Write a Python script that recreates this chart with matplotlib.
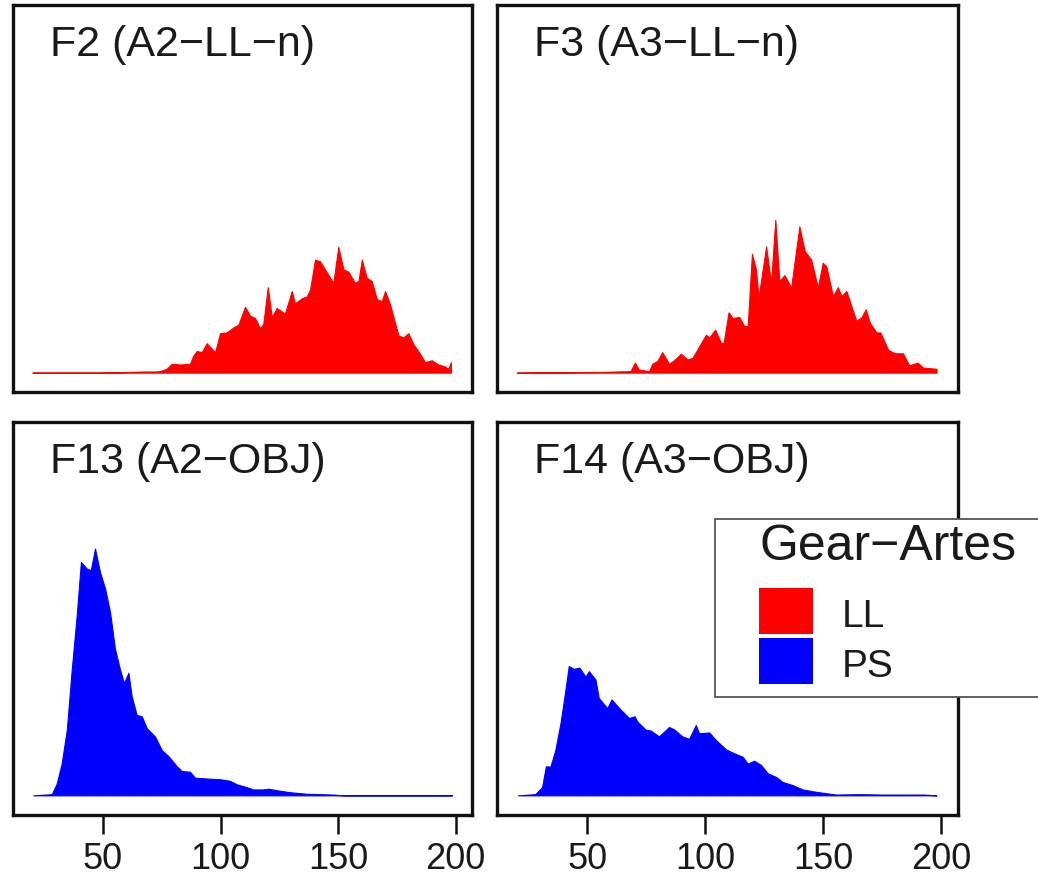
import matplotlib
matplotlib.use("Agg")
import matplotlib.pyplot as plt
from matplotlib.patches import Rectangle

plt.rcParams['font.family'] = ['Liberation Sans', 'DejaVu Sans']

# length (cm) / frequency (%), one pair per panel
f2_len = [20, 48, 56, 62, 68, 72, 74.3, 77.1, 79.2, 82.8, 87.0, 88.4, 89.9, 92.0, 94.1, 97.7,
          99.8, 102.6, 105.5, 107.6, 110.4, 112.6, 114.7, 116.8, 118.2, 120.1, 121.8, 123.9,
          127.4, 130.3, 131.7, 134.5, 136.7, 138.1, 140.2, 142.3, 148.0, 150.1, 152.3, 154.4,
          157.2, 158.7, 160.1, 162.2, 164.3, 166.5, 168.6, 170.0, 172.1, 175.7, 177.8, 179.9,
          182.0, 184.9, 187.0, 189.9, 192.7, 195.5, 196.9, 198.0]
f2_freq = [0, 0, 0.01, 0.02, 0.03, 0.03, 0.04, 0.10, 0.23, 0.21, 0.23, 0.44, 0.56, 0.53, 0.76, 0.53,
           1.02, 1.04, 1.17, 1.24, 1.70, 1.47, 1.41, 1.15, 1.26, 2.21, 1.44, 1.67,
           1.53, 2.11, 1.79, 1.92, 1.97, 2.15, 2.92, 2.88, 2.32, 3.25, 2.67, 2.61,
           2.32, 2.37, 2.92, 2.45, 2.37, 1.90, 1.85, 2.11, 1.77, 0.96, 0.91, 1.02,
           0.74, 0.49, 0.27, 0.32, 0.21, 0.16, 0.10, 0.27]

f3_len = [20.1, 57.7, 61.9, 68.3, 70.1, 71.8, 76.1, 77.5, 79.6, 81.7, 84.6, 86.7, 89.6, 92.4,
          94.5, 100.2, 101.6, 104.1, 106.6, 107.7, 109.8, 111.5, 114.3, 116.5, 117.9, 119.7,
          121.4, 122.5, 125.7, 127.8, 129.6, 131.3, 133.5, 136.3, 139.8, 142.0, 144.8, 147.6,
          149.7, 151.2, 154.0, 156.1, 157.6, 159.7, 163.9, 166.1, 167.9, 169.6, 172.4, 174.1,
          177.4, 180.2, 183.7, 186.3, 189.9, 192.2, 197.9]
f3_freq = [0, 0.02, 0.03, 0.04, 0.26, 0.08, 0.04, 0.23, 0.30, 0.53, 0.23, 0.32, 0.49, 0.34,
           0.38, 0.98, 0.91, 1.11, 0.77, 0.77, 1.56, 1.41, 1.44, 1.20, 1.20, 3.07,
           2.67, 1.94, 3.26, 2.32, 3.95, 2.37, 2.52, 2.20, 3.78, 3.15, 2.92, 2.20,
           2.84, 2.75, 1.98, 2.21, 1.98, 2.11, 1.34, 1.43, 1.64, 1.30, 1.04, 1.04,
           0.59, 0.50, 0.50, 0.19, 0.26, 0.13, 0.10]

f13_len = [20.3, 28.2, 30.3, 32.4, 34.6, 36.7, 38.8, 40.6, 43.1, 44.8, 46.6, 48.7, 50.9, 53.0,
           55.1, 57.2, 58.9, 60.8, 62.2, 64.3, 66.5, 68.6, 72.1, 75.0, 77.8, 81.4, 83.5, 87.0,
           89.1, 94.1, 99.8, 104.0, 106.9, 111.1, 113.9, 118.2, 120.3, 123.9, 129.6, 136.7,
           148.0, 152.3, 198.4]
f13_freq = [0, 0.03, 0.30, 0.81, 1.67, 3.21, 4.57, 5.94, 5.77, 5.73, 6.28, 5.68, 5.26, 4.66,
            3.72, 3.21, 2.86, 3.12, 2.52, 2.05, 2.01, 1.71, 1.50, 1.15, 1.00, 0.74, 0.62, 0.60,
            0.45, 0.43, 0.41, 0.37, 0.28, 0.21, 0.15, 0.15, 0.17, 0.13, 0.08, 0.04,
            0.02, 0, 0]

f14_len = [20.6, 27.9, 30.8, 32.4, 34.3, 36.4, 38.6, 40.7, 42.1, 44.2, 46.6, 49.2, 50.6, 53.4,
           54.8, 58.4, 60.2, 64.1, 67.6, 70.0, 71.1, 74.7, 76.8, 80.3, 84.6, 86.7, 90.2, 93.1,
           95.9, 97.3, 101.6, 104.4, 108.7, 112.2, 115.8, 117.9, 120.7, 123.6, 126.4, 129.9,
           132.7, 137.0, 141.2, 146.9, 155.4, 165.3, 175.2, 192.2, 197.9]
f14_freq = [0, 0.03, 0.21, 0.74, 0.73, 1.15, 1.84, 2.69, 3.29, 3.22, 3.25, 3.02, 3.16, 2.95,
            2.48, 2.22, 2.44, 2.18, 1.97, 2.01, 1.88, 1.67, 1.65, 1.50, 1.74, 1.68, 1.50, 1.44,
            1.79, 1.58, 1.60, 1.41, 1.17, 1.07, 0.98, 0.81, 0.88, 0.77, 0.56, 0.47,
            0.34, 0.26, 0.15, 0.09, 0.02, 0.03, 0.02, 0.02, 0]

titles = ['F2 (A2\u2212LL\u2212n)', 'F3 (A3\u2212LL\u2212n)', 'F13 (A2\u2212OBJ)', 'F14 (A3\u2212OBJ)']
gears = ['LL', 'LL', 'PS', 'PS']
gear_colors = {'LL': '#ff0000', 'PS': '#0000ff'}
xticks = [50, 100, 150, 200]

W, H = 1038, 879
fig = plt.figure(figsize=(W / 100, H / 100), dpi=100)


def px_box(x0, y0, x1, y1):
    # pixel box (top-left origin) -> figure fraction rect
    return [x0 / W, 1 - y1 / H, (x1 - x0) / W, (y1 - y0) / H]


boxes = [px_box(13, 6, 472, 393), px_box(497, 6, 958, 393),
         px_box(13, 423, 472, 816), px_box(497, 423, 958, 816)]
series = [(f2_len, f2_freq), (f3_len, f3_freq), (f13_len, f13_freq), (f14_len, f14_freq)]

for i, (box, (x, y)) in enumerate(zip(boxes, series)):
    ax = fig.add_axes(box)
    col = gear_colors[gears[i]]
    ax.fill_between(x, y, 0, facecolor=col, edgecolor=col, linewidth=0.8)
    ax.set_xlim(11.7, 207)
    ax.set_ylim(-0.5, 9.5)
    ax.set_yticks([])
    for s in ax.spines.values():
        s.set_linewidth(2.4)
        s.set_color('#111111')
    ax.text(0.081, 0.872, titles[i], transform=ax.transAxes, fontsize=31,
            color='#1a1a1a', ha='left', va='baseline')
    if i >= 2:
        ax.set_xticks(xticks)
        ax.tick_params(axis='x', length=14, width=1.8, pad=5, labelsize=26,
                       color='#111111', labelcolor='#1a1a1a')
    else:
        ax.set_xticks([])

# legend box, partly cut by the right border like the original
lx0, ly0, lx1, ly1 = 715, 520, 1050, 698
fig.add_artist(Rectangle((lx0 / W, 1 - ly1 / H), (lx1 - lx0) / W, (ly1 - ly0) / H,
                         transform=fig.transFigure, facecolor='white',
                         edgecolor='#555555', linewidth=1.3, zorder=10))
fig.text(760 / W, 1 - 560 / H, 'Gear\u2212Artes', fontsize=36, color='#1a1a1a',
         ha='left', va='baseline', zorder=11)
key_tops = [589, 639]
for g, top in zip(['LL', 'PS'], key_tops):
    fig.add_artist(Rectangle((759 / W, 1 - (top + 46) / H), 54 / W, 46 / H,
                             transform=fig.transFigure, facecolor=gear_colors[g],
                             edgecolor='none', zorder=11))
    fig.text(842 / W, 1 - (top + 38) / H, g, fontsize=28, color='#1a1a1a',
             ha='left', va='baseline', zorder=11)

fig.savefig('out.png', dpi=100)
